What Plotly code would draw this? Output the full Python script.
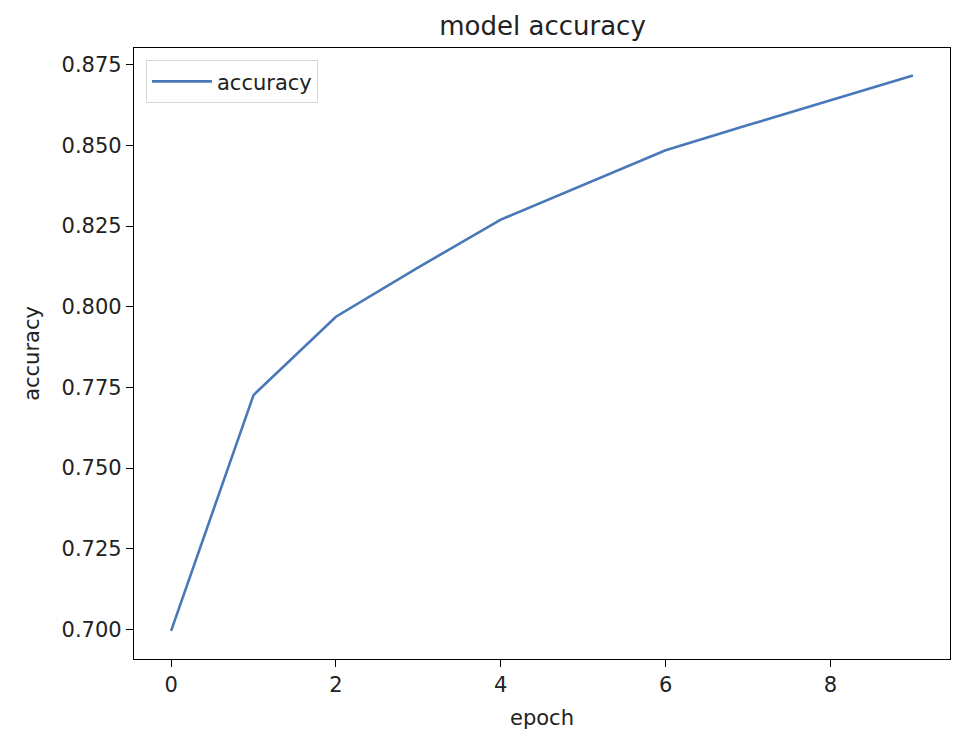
import plotly.graph_objects as go

# accuracy per epoch
epochs = [0, 1, 2, 3, 4, 5, 6, 7, 8, 9]
accuracy = [0.6995, 0.7726, 0.7969, 0.8122, 0.8270, 0.8378, 0.8485, 0.8563, 0.8641, 0.8717]

x_ticks = [0, 2, 4, 6, 8]
y_ticks = [0.700, 0.725, 0.750, 0.775, 0.800, 0.825, 0.850, 0.875]

fig = go.Figure()

fig.add_trace(go.Scatter(
    x=epochs,
    y=accuracy,
    mode='lines',
    name='accuracy',
    line=dict(color='#4878b8', width=2.6)
))

# page body has an 8px margin, so the figure is sized to fit the window
fig.update_layout(
    width=955,
    height=734,
    plot_bgcolor='white',
    paper_bgcolor='white',
    font=dict(family='DejaVu Sans', size=21, color='#222222'),
    title=dict(text='model accuracy', x=0.5597, xanchor='center',
               yref='container', y=0.975, yanchor='middle',
               font=dict(size=26)),
    margin=dict(l=126, r=13, t=40, b=83),
    showlegend=True,
    legend=dict(
        x=0.0147, y=0.980, xanchor='left', yanchor='top',
        bordercolor='#d6d6d6', borderwidth=1, bgcolor='rgba(255,255,255,0.8)',
        font=dict(size=21), itemwidth=60
    ),
    xaxis=dict(
        range=[-0.45, 9.45],
        tickvals=x_ticks,
        showgrid=False, zeroline=False,
        showline=True, mirror=True, linecolor='black', linewidth=1.3,
        ticks='outside', ticklen=7, tickcolor='black',
        title=dict(text='epoch', standoff=13, font=dict(size=21))
    ),
    yaxis=dict(
        range=[0.6908, 0.8802],
        tickvals=y_ticks,
        tickformat='.3f',
        showgrid=False, zeroline=False,
        showline=True, mirror=True, linecolor='black', linewidth=1.3,
        ticks='outside', ticklen=7, tickcolor='black',
        title=dict(text='accuracy', standoff=16, font=dict(size=21))
    )
)

fig.write_html("out.html")
